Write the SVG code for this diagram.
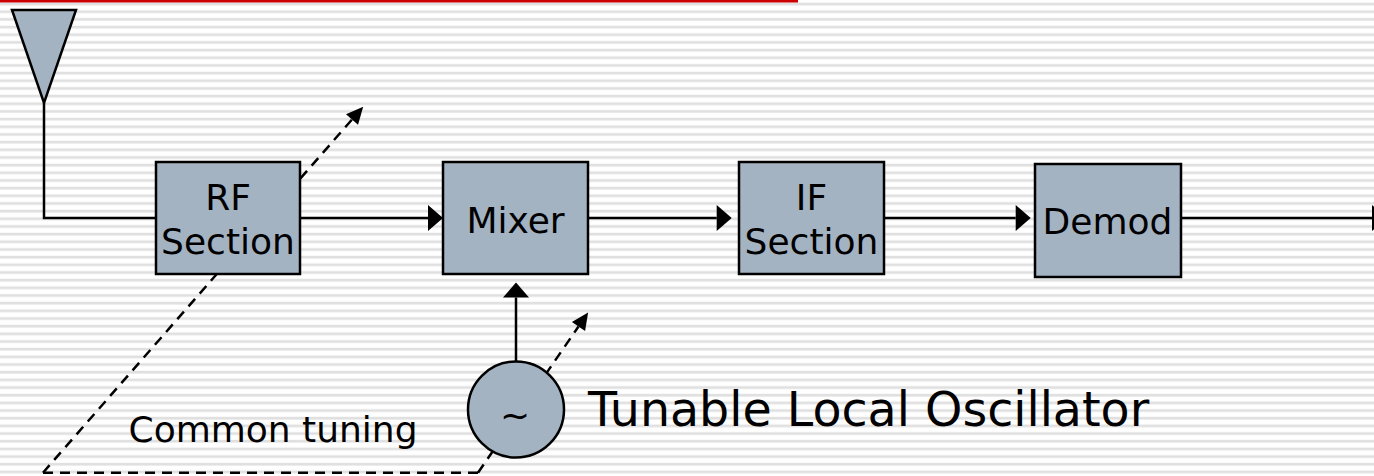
<svg xmlns="http://www.w3.org/2000/svg" width="1374" height="476" viewBox="0 0 1374 476">
<style>
.box{fill:#a4b3c2;stroke:#000;stroke-width:2.5}
.ln{fill:none;stroke:#000;stroke-width:2.5}
.dash{fill:none;stroke:#000;stroke-width:2.5;stroke-dasharray:10 7}
.t{font-family:"DejaVu Sans","Verdana",sans-serif;font-size:36px;fill:#000}
.c{text-anchor:middle}
</style>
<defs>
<pattern id="stripes" width="40" height="7.67" patternUnits="userSpaceOnUse">
<rect width="40" height="7.67" fill="#ffffff"/>
<rect y="2.7" width="40" height="2.7" fill="#e0e0e0"/>
</pattern>
<marker id="arr" markerUnits="userSpaceOnUse" markerWidth="16" markerHeight="26" refX="0" refY="13" orient="auto" overflow="visible">
<path d="M0,0 L15,13 L0,26 z" fill="#000"/>
</marker>
<marker id="darr" markerUnits="userSpaceOnUse" markerWidth="18" markerHeight="16" refX="0" refY="8" orient="auto" overflow="visible">
<path d="M0,0 L17,8 L0,16 z" fill="#000"/>
</marker>
</defs>
<rect width="1374" height="476" fill="url(#stripes)"/>
<rect x="0" y="0" width="798" height="2.5" fill="#cc0000"/>

<g id="connectors">
<path class="ln" d="M44,103 V218 H156"/>
<line class="ln" x1="300" y1="218" x2="428" y2="218" marker-end="url(#arr)"/>
<line class="ln" x1="588" y1="218" x2="716.7" y2="218" marker-end="url(#arr)"/>
<line class="ln" x1="884" y1="218" x2="1015.7" y2="218" marker-end="url(#arr)"/>
<line class="ln" x1="1181" y1="218" x2="1372" y2="218" marker-end="url(#arr)"/>
<line class="ln" x1="516" y1="361.5" x2="516" y2="297.5" marker-end="url(#arr)"/>
<line class="dash" x1="43" y1="472.7" x2="352" y2="119.5" marker-end="url(#darr)"/>
<line class="dash" x1="43" y1="472.7" x2="478" y2="472.7"/>
<line class="dash" x1="478" y1="472.7" x2="578.5" y2="326.5" marker-end="url(#darr)"/>
</g>

<g id="antenna">
<polygon class="box" points="12,10 76,10 44,103"/>
</g>
<g id="rf">
<rect class="box" x="156" y="162" width="144" height="112"/>
<text class="t c" x="228" y="210">RF</text>
<text class="t c" x="228" y="253.5">Section</text>
</g>
<g id="mixer">
<rect class="box" x="443" y="162" width="145" height="112"/>
<text class="t c" x="515.5" y="232.7">Mixer</text>
</g>
<g id="if">
<rect class="box" x="739" y="162" width="145" height="112"/>
<text class="t c" x="811.5" y="210">IF</text>
<text class="t c" x="811.5" y="254">Section</text>
</g>
<g id="demod">
<rect class="box" x="1035" y="164" width="146" height="113"/>
<text class="t c" x="1107.5" y="234.3">Demod</text>
</g>
<g id="lo">
<circle class="box" cx="516" cy="409.5" r="48"/>
<text class="t c" x="515" y="427.5">~</text>
</g>
<g id="labels">
<text class="t" x="128.5" y="441.7">Common tuning</text>
<text class="t" x="588" y="426" style="font-size:47.5px">Tunable Local Oscillator</text>
</g>
</svg>
